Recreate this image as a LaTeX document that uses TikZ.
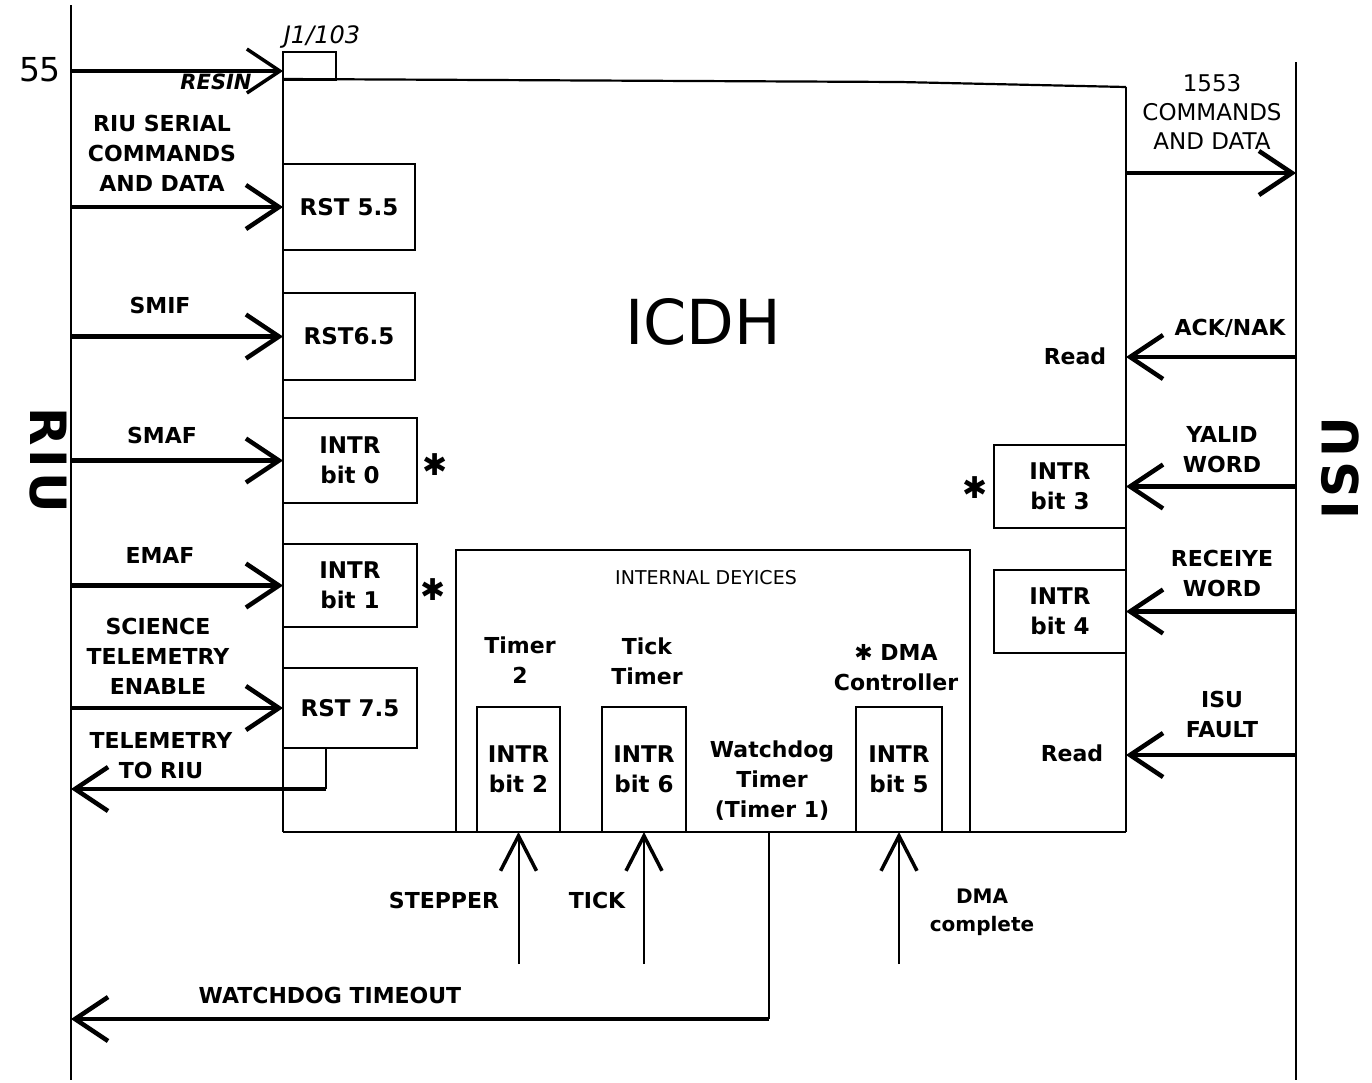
\documentclass[tikz,border=0pt]{standalone}
\usepackage{fontspec}
\setmainfont{DejaVu Sans}
\usetikzlibrary{arrows.meta}
\begin{document}
\begin{tikzpicture}[x=1pt,y=-1pt,
  every node/.style={inner sep=0pt, outer sep=0pt},
  lbl/.style={font=\fontsize{22}{30}\selectfont\bfseries, align=center},
  lite/.style={font=\fontsize{23}{29}\selectfont, align=center},
  blk/.style={draw, line width=1.8pt, align=center, font=\fontsize{23}{30}\selectfont\bfseries},
  sig/.style={line width=4.5pt, -{Straight Barb[length=33pt,width=44pt]}},
  upsig/.style={line width=2pt, -{Straight Barb[length=35pt,width=36pt,line width=3.5pt]}},
  wire/.style={line width=2pt},
  border/.style={line width=1.3pt},
  star/.style={font=\fontsize{30}{30}\selectfont}
]
\useasboundingbox (0,0) rectangle (1372,1082);

% borders
\coordinate (Lt) at (71,5);
\coordinate (Lbot) at (71,1080);
\coordinate (Lb) at (71,0);
\coordinate (Rt) at (1296,62);
\coordinate (Rbot) at (1296,1080);
\draw[border] (Lt) -- (Lbot);
\draw[border] (Rt) -- (Rbot);

% ICDH outline
\coordinate (Inw) at (283,79);
\coordinate (Imid) at (900,82);
\coordinate (Ine) at (1126,87);
\coordinate (Ise) at (1126,832);
\coordinate (Isw) at (283,832);
\draw[line width=2.2pt] (Inw) -- (Imid) -- (Ine);
\draw[line width=1.5pt] (Ine) -- (Ise);
\draw[line width=2.5pt] (Ise) -- (Isw);
\draw[line width=1.5pt] (Isw) -- (Inw);
\node[font=\fontsize{62}{62}\selectfont] (icdh) at (703,322) {ICDH};

% J1/103
\node[draw, line width=1.8pt, minimum width=53pt, minimum height=28pt] (j1) at (309.5,66) {};
\node[font=\fontsize{24}{24}\selectfont\itshape] (j1lbl) at (322,37) {J1/103};
\node[font=\fontsize{21}{21}\selectfont\bfseries\itshape] (resin) at (216,82) {RESIN};
\node[font=\fontsize{33}{33}\selectfont] (n55) at (40,70) {55};
\coordinate (resinend) at (283,71);
\draw[sig, line width=3.5pt] (Lb |- resinend) -- (resinend);

% left boxes
\node[blk, minimum width=132pt, minimum height=86pt] (rst55) at (349,207) {RST 5.5};
\node[blk, minimum width=132pt, minimum height=87pt] (rst65) at (349,336.5) {RST6.5};
\node[blk, minimum width=134pt, minimum height=85pt] (intr0) at (350,460.5) {INTR\\bit 0};
\node[blk, minimum width=134pt, minimum height=83pt] (intr1) at (350,585.5) {INTR\\bit 1};
\node[blk, minimum width=134pt, minimum height=80pt] (rst75) at (350,708) {RST 7.5};
\node[star] (s0) at (435,465) {✱};
\node[star] (s1) at (433,590) {✱};

% left labels
\node[lbl] (lserial) at (162,153) {RIU SERIAL\\COMMANDS\\AND DATA};
\node[lbl] (lsmif) at (160,305) {SMIF};
\node[lbl] (lsmaf) at (162,435) {SMAF};
\node[lbl] (lemaf) at (160,555) {EMAF};
\node[lbl] (lsci) at (158,656) {SCIENCE\\TELEMETRY\\ENABLE};
\node[lbl] (ltel) at (161,756) {TELEMETRY\\TO RIU};
\node[font=\fontsize{50}{50}\selectfont\bfseries\addfontfeatures{LetterSpace=8}, rotate=-90] (riu) at (48,460) {RIU};

% left arrows
\draw[sig] (Lb |- rst55.west) -- (rst55.west);
\draw[sig] (Lb |- rst65.west) -- (rst65.west);
\draw[sig] (Lb |- intr0.west) -- (intr0.west);
\draw[sig] (Lb |- intr1.west) -- (intr1.west);
\draw[sig] (Lb |- rst75.west) -- (rst75.west);
\coordinate (telc) at (326,789);
\draw[wire] (rst75.south -| telc) -- (telc);
\draw[sig] (telc) -- (Lb |- telc);

% right boxes
\node[blk, minimum width=132pt, minimum height=83pt] (intr3) at (1060,486.5) {INTR\\bit 3};
\node[blk, minimum width=132pt, minimum height=83pt] (intr4) at (1060,611.5) {INTR\\bit 4};
\node[star] (s3) at (975,488) {✱};

% right labels
\node[lite] (l1553) at (1212,112) {1553\\COMMANDS\\AND DATA};
\node[lbl] (lack) at (1230,328) {ACK/NAK};
\node[lbl] (read1) at (1075,356) {Read};
\node[lbl] (lvalid) at (1222,450) {YALID\\WORD};
\node[lbl] (lrecv) at (1222,573) {RECEIYE\\WORD};
\node[lbl] (lisu) at (1222,714) {ISU\\FAULT};
\node[lbl] (read2) at (1072,753) {Read};
\node[font=\fontsize{50}{50}\selectfont\bfseries\addfontfeatures{LetterSpace=8}, rotate=90] (isu) at (1340,468) {ISU};

% right arrows
\coordinate (y1553) at (0,173);
\coordinate (yack) at (0,357);
\coordinate (yfault) at (0,755);
\draw[sig] (Ine |- y1553) -- (Rt |- y1553);
\draw[sig] (Rt |- yack) -- (Ine |- yack);
\draw[sig] (Rt |- intr3.east) -- (intr3.east);
\draw[sig] (Rt |- intr4.east) -- (intr4.east);
\draw[sig] (Rt |- yfault) -- (Ine |- yfault);

% internal devices
\node[draw, line width=1.8pt, minimum width=514pt, minimum height=282pt] (intdev) at (713,691) {};
\node[font=\fontsize{19}{19}\selectfont] (lint) at (706,578) {INTERNAL DEYICES};
\node[lbl] (ltimer2) at (520,660) {Timer\\2};
\node[lbl] (ltick) at (647,661) {Tick\\Timer};
\node[lbl] (ldma) at (896,668) {✱ DMA\\Controller};
\node[lbl] (lwd) at (772,781) {Watchdog\\Timer\\(Timer 1)};
\node[blk, minimum width=83pt, minimum height=125pt] (intr2) at (518.5,769.5) {INTR\\bit 2};
\node[blk, minimum width=84pt, minimum height=125pt] (intr6) at (644,769.5) {INTR\\bit 6};
\node[blk, minimum width=86pt, minimum height=125pt] (intr5) at (899,769.5) {INTR\\bit 5};

% bottom
\coordinate (ybot) at (0,964);
\draw[upsig] (intr2.south |- ybot) -- (intr2.south);
\draw[upsig] (intr6.south |- ybot) -- (intr6.south);
\draw[upsig] (intr5.south |- ybot) -- (intr5.south);
\node[lbl] (lstep) at (444,900) {STEPPER};
\node[lbl] (ltick2) at (597,900) {TICK};
\node[lbl, font=\fontsize{20}{28}\selectfont\bfseries] (ldmac) at (982,912) {DMA\\complete};
\coordinate (wdtop) at (769,832);
\coordinate (wdc) at (769,1019);
\draw[wire] (wdtop) -- (wdc);
\draw[sig] (wdc) -- (Lb |- wdc);
\node[lbl] (lwdt) at (330,995) {WATCHDOG TIMEOUT};
\end{tikzpicture}
\end{document}
